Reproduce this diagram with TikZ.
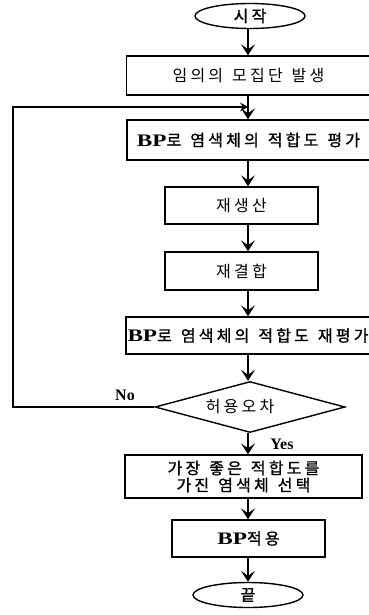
\documentclass[tikz,border=0pt]{standalone}
\usepackage{fontspec}
\setmainfont{Liberation Serif}
\newfontfamily\kr{Noto Sans CJK KR}[LetterSpace=20]
\newfontfamily\krb{Noto Sans CJK KR}[LetterSpace=20,FakeBold=1.2]
\usetikzlibrary{shapes.geometric,arrows.meta}
\newcommand{\ws}{\hspace{9pt}}
\newcommand{\BP}{\scalebox{1.45}[1.1]{\rmfamily\bfseries BP}}
\begin{document}
\begin{tikzpicture}[x=1pt,y=-1pt,line width=1.4pt,
  box/.style={draw,rectangle,inner sep=0pt,align=center,font=\kr\fontsize{16}{17}\selectfont},
  bbox/.style={box,font=\krb\fontsize{16}{17}\selectfont},
  term/.style={draw,ellipse,inner sep=0pt,minimum width=110pt,minimum height=25pt,font=\krb\fontsize{16}{17}\selectfont},
  dec/.style={draw,diamond,inner sep=0pt,minimum width=190pt,minimum height=51pt},
  arr/.style={-{Stealth[length=11pt,width=14pt,inset=5pt]}},
  lab/.style={font=\rmfamily\bfseries\fontsize{16}{17}\selectfont}]
\useasboundingbox (0,0) rectangle (369,615);
\coordinate (ax) at (248,0);
\node[term] (start) at (250,16) {시작};
\node[box,minimum width=244pt,minimum height=39pt] (b1) at (248.5,75.5) {임의의\ws 모집단\ws 발생};
\node[bbox,minimum width=243pt,minimum height=40pt] (b2) at (248.5,140) {\BP 로\ws 염색체의\ws 적합도\ws 평가};
\node[box,minimum width=153pt,minimum height=37pt] (b3) at (241.5,205.5) {재생산};
\node[box,minimum width=153pt,minimum height=38pt] (b4) at (241.5,271) {재결합};
\node[bbox,minimum width=244pt,minimum height=37pt] (b5) at (248,335.5) {\BP 로\ws 염색체의\ws 적합도\ws 재평가};
\node[dec] (dia) at (250,407) {};
\node[font=\kr\fontsize{16}{17}\selectfont] (dt) at (240,407) {허용오차};
\node[bbox,minimum width=237pt,minimum height=43pt] (b6) at (243.5,476.5) {가장\ws 좋은\ws 적합도를\\가진\ws 염색체\ws 선택};
\node[bbox,minimum width=153pt,minimum height=37pt] (b7) at (248.5,538.5) {\BP 적용};
\node[term] (end) at (248,595) {끝};
\node[lab] (no) at (125,395) {No};
\node[lab] (yes) at (282,444) {Yes};
\coordinate (j) at (248,107);
\coordinate (lc) at (13,107);
\coordinate (ld) at (13,407);
\draw[arr] (start.south -| ax) -- (b1.north -| ax);
\draw (b1.south -| ax) -- (j);
\draw[arr] (j) -- (b2.north -| ax);
\draw[arr] (b2.south -| ax) -- (b3.north -| ax);
\draw[arr] (b3.south -| ax) -- (b4.north -| ax);
\draw[arr] (b4.south -| ax) -- (b5.north -| ax);
\draw[arr] (b5.south -| ax) -- (dia.north -| ax);
\draw[arr] (dia.south -| ax) -- (b6.north -| ax);
\draw[arr] (b6.south -| ax) -- (b7.north -| ax);
\draw[arr] (b7.south -| ax) -- (end.north -| ax);
\draw[-{Stealth[length=8pt,width=9pt,inset=3pt]}] (dia.west) -- (ld) -- (lc) -- (j);
\end{tikzpicture}
\end{document}
